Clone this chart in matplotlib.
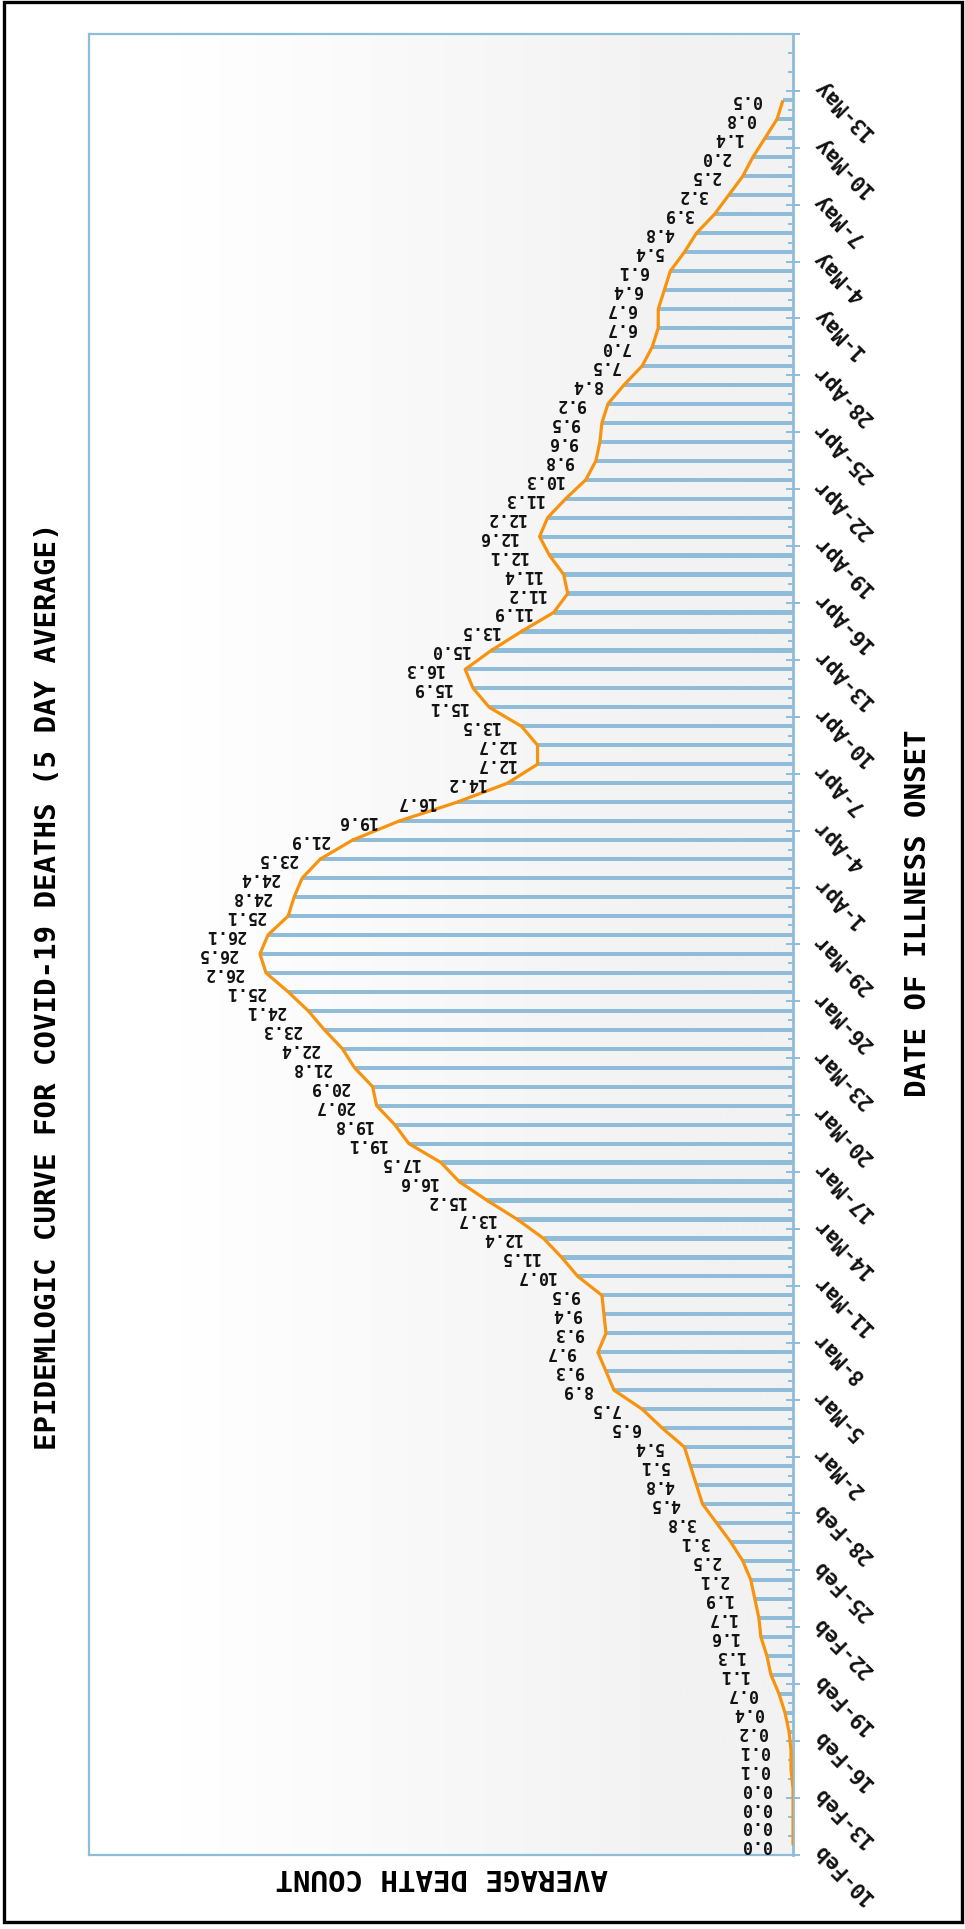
"""Epidemic curve for COVID-19 deaths (5 day average), drawn turned on its side."""

import numpy as np
import pandas as pd
import matplotlib
matplotlib.use("Agg")
import matplotlib.pyplot as plt
from matplotlib.patches import Rectangle
from matplotlib.colors import LinearSegmentedColormap


dates = pd.date_range("2020-02-10", periods=93, freq="D")
avg_deaths = [
    0.0, 0.0, 0.0, 0.0, 0.1, 0.1, 0.2, 0.4, 0.7, 1.1,
    1.3, 1.6, 1.7, 1.9, 2.1, 2.5, 3.1, 3.8, 4.5, 4.8,
    5.1, 5.4, 6.5, 7.5, 8.9, 9.3, 9.7, 9.3, 9.4, 9.5,
    10.7, 11.5, 12.4, 13.7, 15.2, 16.6, 17.5, 19.1, 19.8, 20.7,
    20.9, 21.8, 22.4, 23.3, 24.1, 25.1, 26.2, 26.5, 26.1, 25.1,
    24.8, 24.4, 23.5, 21.9, 19.6, 16.7, 14.2, 12.7, 12.7, 13.5,
    15.1, 15.9, 16.3, 15.0, 13.5, 11.9, 11.2, 11.4, 12.1, 12.6,
    12.2, 11.3, 10.3, 9.8, 9.6, 9.5, 9.2, 8.4, 7.5, 7.0,
    6.7, 6.7, 6.4, 6.1, 5.4, 4.8, 3.9, 3.2, 2.5, 2.0,
    1.4, 0.8, 0.5,
]
tick_labels = [
    "10-Feb", "13-Feb", "16-Feb", "19-Feb", "22-Feb", "25-Feb", "28-Feb",
    "2-Mar", "5-Mar", "8-Mar", "11-Mar", "14-Mar", "17-Mar", "20-Mar",
    "23-Mar", "26-Mar", "29-Mar", "1-Apr", "4-Apr", "7-Apr", "10-Apr",
    "13-Apr", "16-Apr", "19-Apr", "22-Apr", "25-Apr", "28-Apr", "1-May",
    "4-May", "7-May", "10-May", "13-May", "",
]

blue = "#8fbcd8"
orange = "#f7930f"
mono = "DejaVu Sans Mono"

# day slots: each value sits in the middle of its day
day_pos = (dates - dates[0]).days.to_numpy() + 0.5
n_days = 3 * (len(tick_labels) - 1)
major_pos = np.arange(0, n_days + 1, 3)

fig = plt.figure(figsize=(9.65, 19.29), dpi=100)
ax = fig.add_axes([0.0922, 0.0384, 0.7296, 0.9440])

# soft gradient background (white -> light grey toward the baseline)
grad = np.clip((np.linspace(0, 1, 400) - 0.126) / (0.835 - 0.126), 0, 1)[None, :]
cmap = LinearSegmentedColormap.from_list("bg", ["#ffffff", "#f2f2f2"])
ax.imshow(grad, cmap=cmap, aspect="auto", extent=[0, 1, 0, 1],
          transform=ax.transAxes, zorder=0, interpolation="bilinear")

ax.barh(day_pos, avg_deaths, height=0.22, color=blue, zorder=2)
ax.plot(avg_deaths, day_pos, color=orange, lw=2.3, zorder=3,
        solid_joinstyle="round", solid_capstyle="butt")

for v, y in zip(avg_deaths, day_pos):
    ax.annotate(f"{v:.1f}", xy=(v, y), xytext=(-22, 0), textcoords="offset pixels",
                rotation=180, rotation_mode="anchor", ha="left", va="center",
                fontsize=12, fontweight="bold", family=mono, color="#111111",
                zorder=4)

ax.set_xlim(35, 0)
ax.set_ylim(0, n_days)
ax.set_xticks([])

ax.yaxis.tick_right()
ax.set_yticks(major_pos)
ax.set_yticks(np.arange(0, n_days + 1, 1), minor=True)
ax.tick_params(axis="y", which="major", direction="inout", length=9.5, width=1.4,
               color=blue, labelright=False, labelleft=False)
ax.tick_params(axis="y", which="minor", direction="in", length=3.5, width=1.4,
               color=blue)

# date labels, slanted and upside down like the turned-over original
for pos, lab in zip(major_pos, tick_labels):
    ax.annotate(lab, xy=(1, pos), xycoords=("axes fraction", "data"),
                xytext=(23, 8), textcoords="offset pixels",
                rotation=135, rotation_mode="anchor", ha="right", va="center",
                fontsize=15, fontweight="bold", family=mono, color="#111111")

for side in ["left", "right", "top", "bottom"]:
    ax.spines[side].set_color(blue)
    ax.spines[side].set_linewidth(1.6)
ax.spines["right"].set_linewidth(2.0)

fig.text(0.0497, 0.4889, "EPIDEMLOGIC CURVE FOR COVID-19 DEATHS (5 DAY AVERAGE)",
         rotation=90, ha="center", va="center", fontsize=21, fontweight="bold",
         family=mono)
fig.text(0.951, 0.5267, "DATE OF ILLNESS ONSET", rotation=90, ha="center",
         va="center", fontsize=21, fontweight="bold", family=mono)
fig.text(0.458, 0.027, "AVERAGE DEATH COUNT", rotation=180, ha="center",
         va="center", fontsize=21, fontweight="bold", family=mono)

fig.patches.append(Rectangle((0.0041, 0.0036), 0.9928, 0.9956, transform=fig.transFigure,
                             fill=False, ec="black", lw=2.4))

fig.savefig("out.png", dpi=100)
